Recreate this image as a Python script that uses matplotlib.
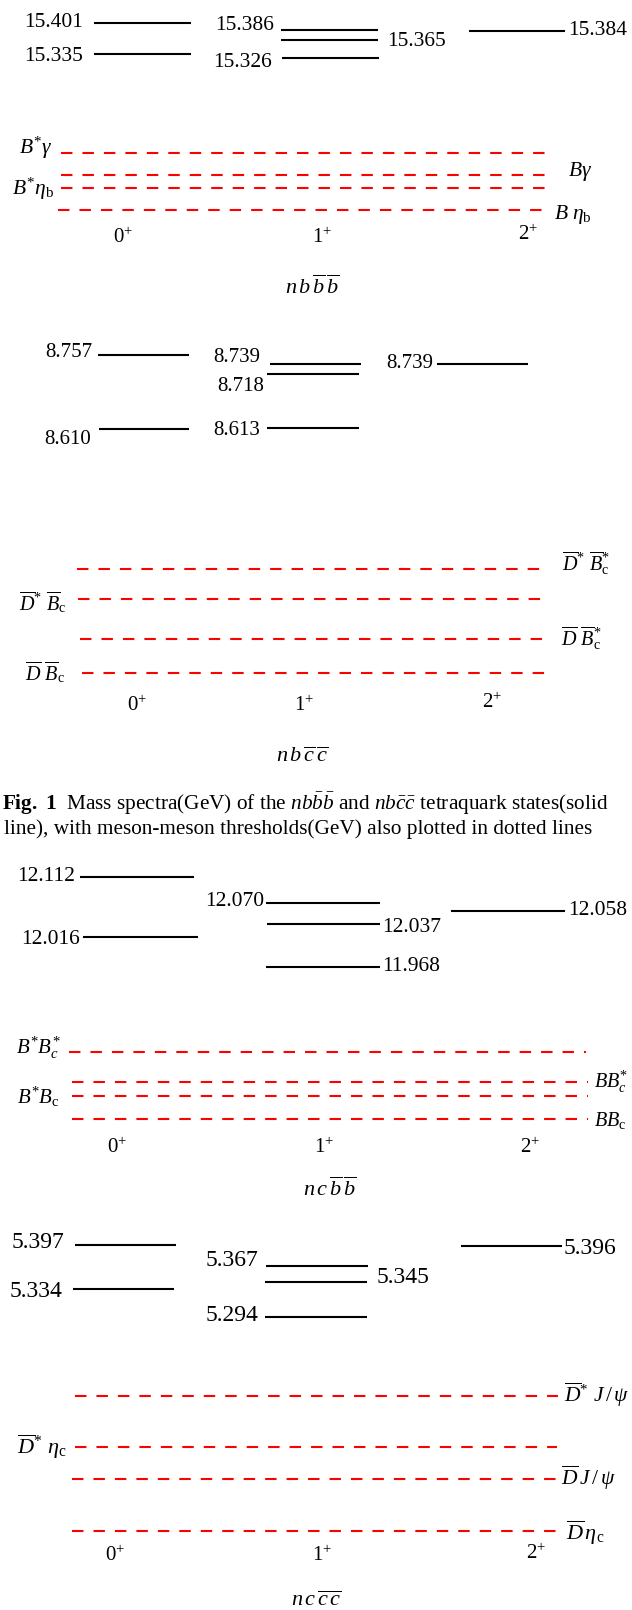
import matplotlib
matplotlib.use("Agg")
import matplotlib.pyplot as plt

plt.rcParams.update({
    "font.family": "Liberation Serif",
    "mathtext.fontset": "custom",
    "mathtext.rm": "Liberation Serif",
    "mathtext.it": "Liberation Serif:italic",
    "mathtext.bf": "Liberation Serif:bold",
})

W, H = 632, 1610

# ---------------- spectra (GeV), one list per J^P column ----------------
jp_labels = [r"$0^{+}$", r"$1^{+}$", r"$2^{+}$"]

nbbb_0 = [15.401, 15.335]
nbbb_1 = [15.386, 15.365, 15.326]
nbbb_2 = [15.384]
nbbb_thr = [14.785, 14.739, 14.711, 14.666]
nbbb_thr_names = [r"$B^{*}\gamma$", r"$B\gamma$", r"$B^{*}\eta_{\mathrm{b}}$",
                  r"$B\ \eta_{\mathrm{b}}$"]

nbcc_0 = [8.757, 8.610]
nbcc_1 = [8.739, 8.718, 8.613]
nbcc_2 = [8.739]
nbcc_thr = [8.340, 8.281, 8.203, 8.135]
nbcc_thr_names = [r"$\overline{D}^{*}\ \overline{B}_{\mathrm{c}}^{*}$",
                  r"$\overline{D}^{*}\ \overline{B}_{\mathrm{c}}$",
                  r"$\overline{D}\ \overline{B}_{\mathrm{c}}^{*}$",
                  r"$\overline{D}\ \overline{B}_{\mathrm{c}}$"]

ncbb_0 = [12.112, 12.016]
ncbb_1 = [12.070, 12.037, 11.968]
ncbb_2 = [12.058]
ncbb_thr = [11.658, 11.611, 11.589, 11.551]
ncbb_thr_names = [r"$B^{*}B_{c}^{*}$", r"$BB_{c}^{*}$",
                  r"$B^{*}B_{\mathrm{c}}$", r"$BB_{\mathrm{c}}$"]

nccc_0 = [5.397, 5.334]
nccc_1 = [5.367, 5.345, 5.294]
nccc_2 = [5.396]
nccc_thr = [5.104, 5.032, 4.986, 4.912]
nccc_thr_names = [r"$\overline{D}^{*}\ J\,/\,\psi$", r"$\overline{D}^{*}\ \eta_{\mathrm{c}}$",
                  r"$\overline{D}\,J\,/\,\psi$", r"$\overline{D}\,\eta_{\mathrm{c}}$"]

# ---------------- layout (pixels) ----------------
panels = [
    dict(
        name=r"$n\,b\,\overline{b}\,\overline{b}$",
        levels=[nbbb_0, nbbb_1, nbbb_2], thr=nbbb_thr, thr_names=nbbb_thr_names,
        scale=474.5, lev_ref=(15.401, 22.5), thr_ref=(14.785, 153.3),
        num_fs=15.5, thr_fs=[15.5, 15.5, 15.5, 15.5],
        lev_geom=[[(94, 191, "L", 83.4, -0.3), (94, 191, "L", 83.4, 2.5)],
                  [(281, 378, "L", 274, -4.3), (281, 378, "R", 387, 2.0),
                   (282, 379, "L", 272.4, 4.3)],
                  [(469, 565, "R", 568, 0.3)]],
        thr_geom=[(60.5, 551, "L", 52.4, -5.0), (60.5, 551, "R", 567.5, -3.3),
                  (60.5, 551, "L", 54.4, 0.0), (58.4, 549, "R", 554, 5.0)],
        jp_pos=[(123, 238), (322, 238), (528, 235)], name_pos=(312, 287),
    ),
    dict(
        name=r"$n\,b\,\overline{c}\,\overline{c}$",
        levels=[nbcc_0, nbcc_1, nbcc_2], thr=nbcc_thr, thr_names=nbcc_thr_names,
        scale=509.0, lev_ref=(8.757, 354.5), thr_ref=(8.340, 569.0),
        num_fs=15, thr_fs=[14.5, 14.5, 14.5, 14.5],
        lev_geom=[[(98, 189, "L", 91.9, -1.7), (99, 189, "L", 90.7, 10.0)],
                  [(270, 361, "L", 260, -6.3), (267, 359, "L", 264, 12.3),
                   (267, 359, "L", 260, 2.7)],
                  [(436.5, 528, "L", 433, 0.0)]],
        thr_geom=[(76.6, 548, "R", 562, -6.0), (77.8, 547, "L", 66.5, 2.7),
                  (79.8, 549, "R", 561, -1.0), (81.8, 551, "L", 64.5, -1.7)],
        jp_pos=[(137, 706), (304, 706), (492, 703)], name_pos=(302, 757),
    ),
    dict(
        name=r"$n\,c\,\overline{b}\,\overline{b}$",
        levels=[ncbb_0, ncbb_1, ncbb_2], thr=ncbb_thr, thr_names=ncbb_thr_names,
        scale=627.3, lev_ref=(12.112, 877.0), thr_ref=(11.658, 1052.3),
        num_fs=15.5, thr_fs=[15, 14.5, 15, 14.5],
        lev_geom=[[(80, 194, "L", 75, 0.0), (83, 198, "L", 80, 2.7)],
                  [(266, 380, "L", 264, -1.7), (267, 380, "R", 382, 3.3),
                   (266, 380, "R", 382, -0.7)],
                  [(451, 565, "R", 568, 0.0)]],
        thr_geom=[(68.5, 586, "L", 60.5, -4.3), (71.7, 588, "R", 594, 0.0),
                  (71.7, 588, "L", 59.6, 1.3), (71.7, 588, "R", 594, 0.7)],
        jp_pos=[(117, 1148), (324, 1148), (530, 1148)], name_pos=(330, 1189),
    ),
    dict(
        name=r"$n\,c\,\overline{c}\,\overline{c}$",
        levels=[nccc_0, nccc_1, nccc_2], thr=nccc_thr, thr_names=nccc_thr_names,
        scale=703.0, lev_ref=(5.397, 1245.0), thr_ref=(5.104, 1396.3),
        num_fs=17, thr_fs=[15.5, 16, 15.5, 16],
        lev_geom=[[(75, 176, "L", 64.5, -2.3), (72.5, 174, "L", 62.5, 2.4)],
                  [(266, 367.5, "L", 258, -5.7), (265, 367, "R", 376.8, -4.3),
                   (265, 367, "L", 258, -1.7)],
                  [(461, 562, "R", 563.4, 2.3)]],
        thr_geom=[(74.6, 558, "R", 564, -1.3), (74.6, 557, "L", 66.5, 0.0),
                  (71.7, 556, "R", 561, -1.0), (71.7, 556, "R", 566, 1.7)],
        jp_pos=[(115, 1556), (322, 1556), (536, 1554)], name_pos=(316, 1601),
    ),
]

fig = plt.figure(figsize=(W / 100, H / 100), dpi=100)
fig.patch.set_facecolor("white")


def block_axes(mass_ref, y_ref, px_per_gev):
    """Full-figure axes whose y axis is in GeV, mass_ref sitting y_ref px from the top."""
    ax = fig.add_axes([0, 0, 1, 1])
    ax.set_xlim(0, W)
    ax.set_ylim(mass_ref - (H - y_ref) / px_per_gev, mass_ref + y_ref / px_per_gev)
    ax.axis("off")
    return ax


def side_label(ax, text, x, mass, side, dy, fs):
    ax.annotate(text, xy=(x, mass), xytext=(0, -dy), textcoords="offset pixels",
                ha="right" if side == "L" else "left", va="center",
                fontsize=fs, annotation_clip=False)


def ftext(x, y, s, **kw):
    fig.text(x / W, 1 - y / H, s, **kw)


for p in panels:
    # tetraquark levels
    ax = block_axes(p["lev_ref"][0], p["lev_ref"][1], p["scale"])
    for col, geom in zip(p["levels"], p["lev_geom"]):
        for m, (x0, x1, side, lx, dy) in zip(col, geom):
            ax.hlines(m, x0, x1, color="black", lw=1.5, clip_on=False)
            side_label(ax, f"{m:.3f}", lx, m, side, dy, p["num_fs"])

    # meson-meson thresholds
    axt = block_axes(p["thr_ref"][0], p["thr_ref"][1], p["scale"])
    for m, name, (x0, x1, side, lx, dy), fs in zip(p["thr"], p["thr_names"],
                                                   p["thr_geom"], p["thr_fs"]):
        axt.hlines(m, x0, x1, color="#ff0000", lw=1.5, linestyles=(0, (5.5, 4.8)),
                   clip_on=False)
        side_label(axt, name, lx, m, side, dy, fs)

    for lab, (x, y) in zip(jp_labels, p["jp_pos"]):
        ftext(x, y, lab, ha="center", va="center", fontsize=15)
    ftext(p["name_pos"][0], p["name_pos"][1], p["name"], ha="center", va="center",
          fontsize=16)

# caption
ftext(2, 804, r"$\mathbf{Fig.\ 1}$" + "  Mass spectra(GeV) of the "
      + r"$nb\bar{b}\bar{b}$" + " and " + r"$nb\bar{c}\bar{c}$"
      + " tetraquark states(solid", ha="left", va="center", fontsize=15.3)
ftext(4, 829, "line), with meson-meson thresholds(GeV) also plotted in dotted lines",
      ha="left", va="center", fontsize=15.3)

fig.savefig("out.png", dpi=100, facecolor="white")
